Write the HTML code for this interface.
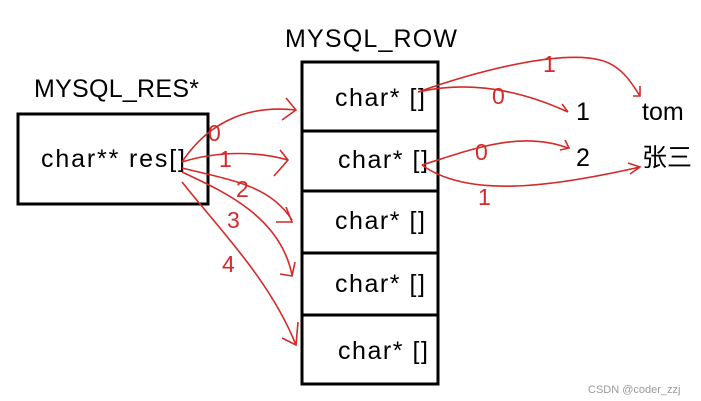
<!DOCTYPE html><html><head><style>body{margin:0;background:#fff}svg{display:block}text{font-family:"Liberation Sans","Noto Sans CJK SC",sans-serif}</style></head><body>
<svg width="701" height="401" viewBox="0 0 701 401" xmlns="http://www.w3.org/2000/svg">
<rect width="701" height="401" fill="#fff"/>
<g fill="none" stroke="#000" stroke-width="3">
<rect x="18" y="114" width="190" height="90"/>
<rect x="302" y="62" width="136" height="322"/>
<line x1="302" y1="131" x2="438" y2="131"/>
<line x1="302" y1="191" x2="438" y2="191"/>
<line x1="302" y1="253" x2="438" y2="253"/>
<line x1="302" y1="315" x2="438" y2="315"/>
</g>
<g font-size="25" fill="#000">
<text x="34" y="97" textLength="165">MYSQL_RES*</text>
<text x="285" y="47" textLength="172">MYSQL_ROW</text>
<text x="41" y="167" textLength="144">char** res[]</text>
<text x="335" y="106" textLength="90">char* []</text>
<text x="338" y="168" textLength="90">char* []</text>
<text x="335" y="229" textLength="90">char* []</text>
<text x="335" y="292" textLength="90">char* []</text>
<text x="338" y="359" textLength="90">char* []</text>
<text x="576" y="120">1</text>
<text x="642" y="120">tom</text>
<text x="576" y="166">2</text>
<text x="642" y="166">张三</text>
</g>
<text x="588" y="393" font-size="11" fill="#999">CSDN @coder_zzj</text>
<g fill="none" stroke="#d42a2a" stroke-width="1.6">
<path d="M182 162 C210 120 250 105 296 110 M286 98 L296 110 L282 120"/>
<path d="M182 162 C220 150 260 152 288 160 M280 150 L288 160 L274 176"/>
<path d="M182 168 C230 180 270 185 292 220 M286 207 L292 222 L276 222"/>
<path d="M182 172 C220 190 280 215 292 275 M295 262 L292 276 L280 274"/>
<path d="M182 182 C220 230 270 280 296 345 M298 322 L296 345 L282 338"/>
<path d="M418 92 C470 80 520 90 568 112 M562 104 L568 112"/>
<path d="M418 92 C480 70 560 50 600 60 C620 65 630 80 640 96 M633 96 L640 96 L640 86"/>
<path d="M422 165 C470 150 520 130 568 148 M565 140 L569 148 L560 150"/>
<path d="M422 165 C470 200 560 185 640 167 M628 163 L640 167 L630 174"/>
</g>
<g font-size="23" fill="#d42a2a">
<text x="208" y="141">0</text>
<text x="219" y="167">1</text>
<text x="236" y="197">2</text>
<text x="227" y="228">3</text>
<text x="222" y="272">4</text>
<text x="492" y="104">0</text>
<text x="543" y="72">1</text>
<text x="475" y="160">0</text>
<text x="478" y="205">1</text>
</g>
</svg></body></html>
